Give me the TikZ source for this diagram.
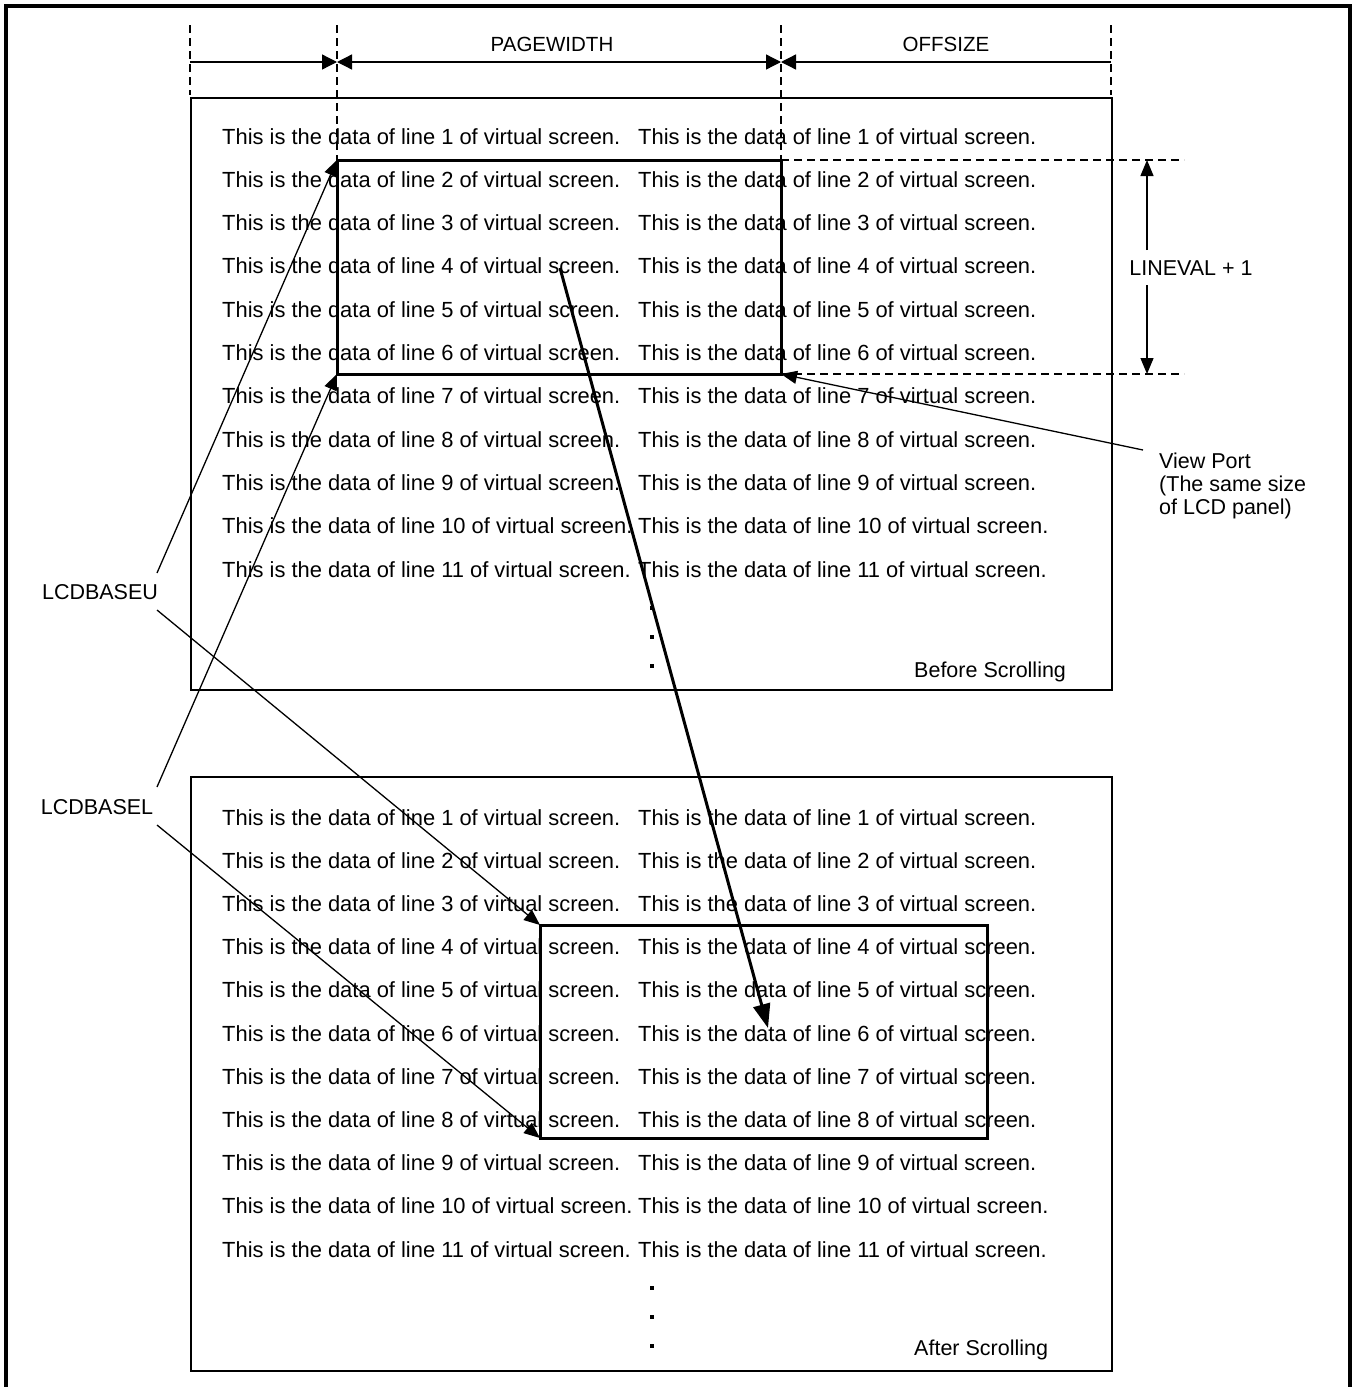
\documentclass[tikz,border=0pt]{standalone}
\usepackage{fontspec}
\setmainfont{Liberation Sans}
\usetikzlibrary{arrows.meta}
\begin{document}
\begin{tikzpicture}[x=1pt,y=-1pt,
  font=\fontsize{21.5}{23}\selectfont,
  txt/.style={inner sep=0pt,anchor=base west},
  rowtxt/.style={inner sep=0pt,anchor=base west,font=\fontsize{21.9}{23}\selectfont},
  thin line/.style={line width=1.3pt},
  boxline/.style={line width=1.6pt},
  vport/.style={line width=3pt},
  dashline/.style={line width=1.3pt,dash pattern=on 8pt off 5pt},
  tip/.style={-{Triangle[length=16pt,width=13pt]}},
  dimtip/.style={{Triangle[length=15pt,width=15pt]}-{Triangle[length=15pt,width=15pt]}},
  bigtip/.style={line width=3pt,-{Triangle[length=24pt,width=17pt]}},
  dot/.style={fill=black,inner sep=0pt,minimum size=3.5pt}
]
\useasboundingbox (0,0) rectangle (1355,1387);
% outer frame
\draw[line width=3.2pt] (6,1400) -- (6,6) -- (1350,6) -- (1350,1400);

% dimension guides
\coordinate (g1t) at (190,25); \coordinate (g1b) at (190,95);
\coordinate (g2t) at (337,25); \coordinate (g2b) at (337,160);
\coordinate (g3t) at (781,25); \coordinate (g3b) at (781,160);
\coordinate (g4t) at (1111,25); \coordinate (g4b) at (1111,95);
\draw[dashline] (g1t) -- (g1b);
\draw[dashline] (g2t) -- (g2b);
\draw[dashline] (g3t) -- (g3b);
\draw[dashline] (g4t) -- (g4b);
\coordinate (d1) at (190,62); \coordinate (d2) at (337,62);
\coordinate (d3) at (781,62); \coordinate (d4) at (1111,62);
\draw[thin line,-{Triangle[length=15pt,width=15pt]}] (d1) -- (d2);
\draw[thin line,dimtip] (d2) -- (d3);
\draw[thin line,-{Triangle[length=15pt,width=15pt]}] (d4) -- (d3);
\node[font=\fontsize{20.5}{23}\selectfont] (pw) at (552,44) {PAGEWIDTH};
\node[font=\fontsize{20.5}{23}\selectfont] (os) at (946,44) {OFFSIZE};

% upper box
\node[draw,boxline,inner sep=0pt,minimum width=921pt,minimum height=592pt,anchor=north west] (ubox) at (190,97) {};
\foreach \i in {1,...,11}{
  \node[rowtxt] (ua\i) at (222,{144+(\i-1)*43.3}) {This is the data of line \i\ of virtual screen.};
  \node[rowtxt] (ub\i) at (638,{144+(\i-1)*43.3}) {This is the data of line \i\ of virtual screen.};
}
\node[dot] (ud1) at (652,608) {};
\node[dot] (ud2) at (652,637) {};
\node[dot] (ud3) at (652,666) {};
\node[txt] (before) at (914,677) {Before Scrolling};

% upper viewport
\coordinate (vu1) at (337,160);
\coordinate (vu2) at (781,374);
\coordinate (vu3) at (337,374);
\draw[vport] (vu1) rectangle (vu2);

% LINEVAL
\coordinate (lt1) at (781,160); \coordinate (lt2) at (1184,160);
\coordinate (lb1) at (781,374); \coordinate (lb2) at (1184,374);
\draw[dashline] (lt1) -- (lt2);
\draw[dashline] (lb1) -- (lb2);
\node (lineval) at (1191,268) {LINEVAL + 1};
\coordinate (la) at (1147,160); \coordinate (lb) at (1147,374);
\draw[thin line,tip] (1147,250) -- (la);
\draw[thin line,tip] (1147,285) -- (lb);

% View Port label
\node[txt] (vp1) at (1159,468) {View Port};
\node[txt] (vp2) at (1159,491) {(The same size};
\node[txt] (vp3) at (1159,514) {of LCD panel)};
\coordinate (vps) at (1143,450);
\draw[thin line,tip] (vps) -- (vu2);

% lower box
\node[draw,boxline,inner sep=0pt,minimum width=921pt,minimum height=594pt,anchor=north west] (lbox) at (190,776) {};
\foreach \i in {1,...,11}{
  \node[rowtxt] (la\i) at (222,{825+(\i-1)*43.2}) {This is the data of line \i\ of virtual screen.};
  \node[rowtxt] (lb\i) at (638,{825+(\i-1)*43.2}) {This is the data of line \i\ of virtual screen.};
}
\node[dot] (ld1) at (652,1288) {};
\node[dot] (ld2) at (652,1317) {};
\node[dot] (ld3) at (652,1346) {};
\node[txt] (after) at (914,1355) {After Scrolling};

% lower viewport
\coordinate (vl1) at (540,925);
\coordinate (vl2) at (987,1138);
\coordinate (vl3) at (540,1138);
\draw[vport] (vl1) rectangle (vl2);

% LCDBASE labels
\node (lcdu) at (100,592) {LCDBASEU};
\node (lcdl) at (97,807) {LCDBASEL};
\coordinate (uu) at (157,573);
\coordinate (ud) at (157,610);
\coordinate (lu) at (157,787);
\coordinate (ldn) at (157,825);
\draw[thin line,tip] (uu) -- (vu1);
\draw[thin line,tip] (ud) -- (vl1);
\draw[thin line,tip] (lu) -- (vu3);
\draw[thin line,tip] (ldn) -- (vl3);

% big scroll arrow
\coordinate (bs) at (560,268);
\coordinate (be) at (768,1028);
\draw[bigtip] (bs) -- (be);
\end{tikzpicture}
\end{document}
